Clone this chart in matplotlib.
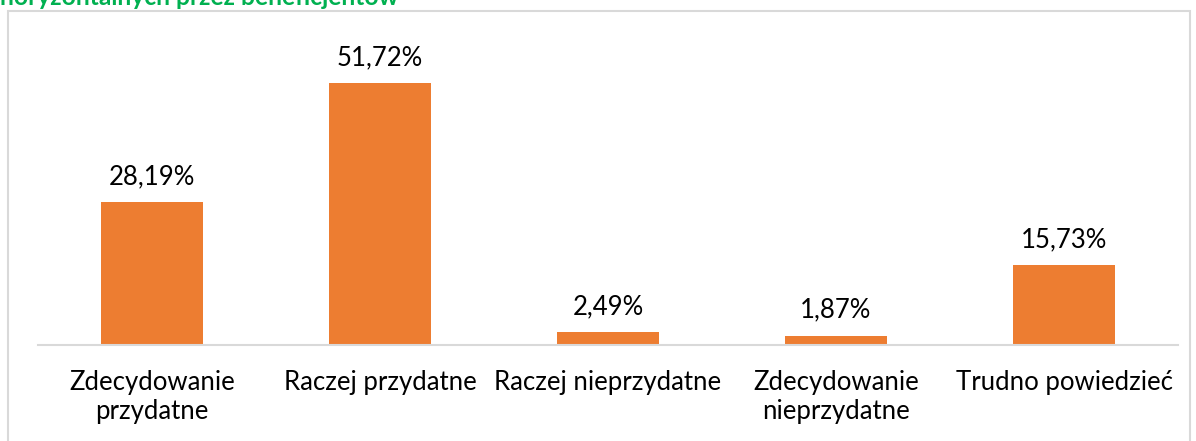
import matplotlib
matplotlib.use("Agg")
import matplotlib.pyplot as plt
from matplotlib.patches import Rectangle

categories = ["Zdecydowanie\nprzydatne", "Raczej przydatne", "Raczej nieprzydatne",
              "Zdecydowanie\nnieprzydatne", "Trudno powiedzieć"]
values = [28.19, 51.72, 2.49, 1.87, 15.73]
labels = ["28,19%", "51,72%", "2,49%", "1,87%", "15,73%"]
title = "horyzontalnych przez beneficjentów"

plt.rcParams['font.family'] = ['Lato', 'DejaVu Sans']

W, H = 1196, 441
fig = plt.figure(figsize=(W/100, H/100), dpi=100)

# chart border
fig.patches.append(Rectangle((8/W, -0.05), (1190-8)/W, 1.05 - 11/H,
                             transform=fig.transFigure, fill=False,
                             edgecolor="#d9d9d9", linewidth=1.5))

ax = fig.add_axes([38/W, (H-345)/H, (1178-38)/W, (345-41)/H])
x = range(len(values))
ax.bar(x, values, width=0.45, color="#ED7D31")
ax.set_xlim(-0.5, len(values)-0.5)
ax.set_ylim(0, 60)
for xi, v, lab in zip(x, values, labels):
    ax.annotate(lab, (xi, v), xytext=(0, 13), textcoords="offset points",
                ha="center", va="baseline", fontsize=18.5, color="#000000")
ax.set_xticks(list(x))
ax.set_xticklabels(categories, fontsize=18.5, linespacing=1.2)
ax.tick_params(axis="x", length=0, pad=18)
ax.set_yticks([])
for s in ["top", "right", "left"]:
    ax.spines[s].set_visible(False)
ax.spines["bottom"].set_color("#d9d9d9")
ax.spines["bottom"].set_linewidth(1.5)

fig.text(0/W, 1 - 5/H, title, ha="left", va="baseline", fontsize=17.7,
         fontweight="bold", color="#00B050")

fig.savefig("out.png", dpi=100)
